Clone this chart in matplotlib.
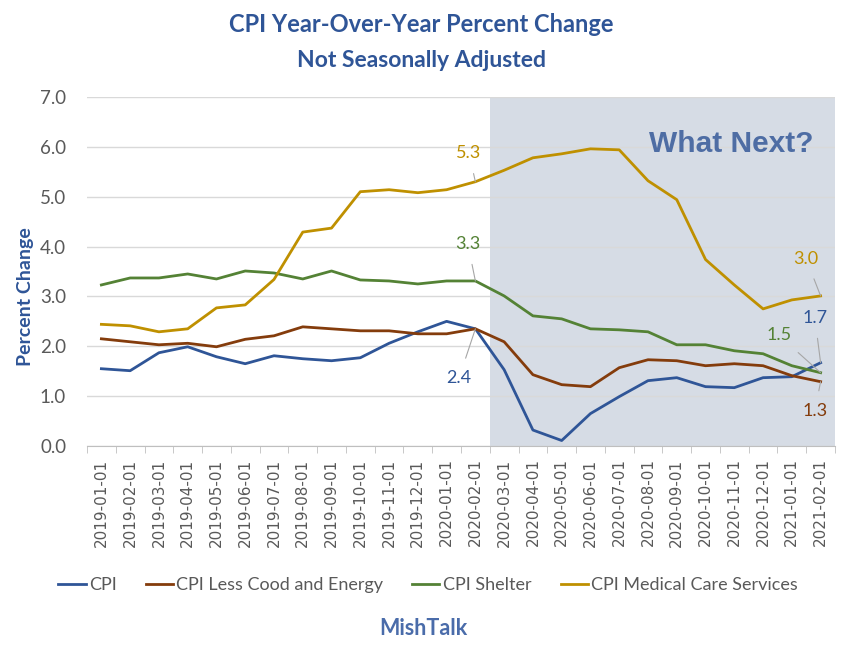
import numpy as np
import matplotlib.pyplot as plt

# %% Data
dates = ["2019-01-01", "2019-02-01", "2019-03-01", "2019-04-01", "2019-05-01", "2019-06-01",
         "2019-07-01", "2019-08-01", "2019-09-01", "2019-10-01", "2019-11-01", "2019-12-01",
         "2020-01-01", "2020-02-01", "2020-03-01", "2020-04-01", "2020-05-01", "2020-06-01",
         "2020-07-01", "2020-08-01", "2020-09-01", "2020-10-01", "2020-11-01", "2020-12-01",
         "2021-01-01", "2021-02-01"]

cpi = [1.55, 1.51, 1.87, 1.99, 1.79, 1.65, 1.81, 1.75, 1.71, 1.77, 2.06, 2.29,
       2.50, 2.35, 1.53, 0.32, 0.11, 0.65, 0.99, 1.31, 1.37, 1.19, 1.17, 1.37,
       1.39, 1.67]
core = [2.15, 2.09, 2.03, 2.06, 1.99, 2.14, 2.21, 2.39, 2.35, 2.31, 2.31, 2.25,
        2.25, 2.35, 2.09, 1.43, 1.23, 1.19, 1.57, 1.73, 1.71, 1.61, 1.65, 1.61,
        1.41, 1.29]
shelter = [3.23, 3.37, 3.37, 3.45, 3.35, 3.51, 3.47, 3.35, 3.51, 3.33, 3.31, 3.25,
           3.31, 3.31, 3.01, 2.61, 2.55, 2.35, 2.33, 2.29, 2.03, 2.03, 1.91, 1.85,
           1.61, 1.47]
medical = [2.44, 2.41, 2.29, 2.35, 2.77, 2.83, 3.34, 4.29, 4.37, 5.10, 5.14, 5.08,
           5.14, 5.30, 5.53, 5.78, 5.86, 5.96, 5.94, 5.32, 4.94, 3.74, 3.23, 2.75,
           2.93, 3.01]

series = [("CPI", cpi, "#2F5597"),
          ("CPI Less Cood and Energy", core, "#843C0C"),
          ("CPI Shelter", shelter, "#548235"),
          ("CPI Medical Care Services", medical, "#BF9000")]

# labels: text, series index, point index, label position (x, y)
labels = [("5.3", 3, 13, (12.78, 5.87)),
          ("3.3", 2, 13, (12.74, 4.05)),
          ("2.4", 0, 13, (12.43, 1.36)),
          ("3.0", 3, 25, (24.5, 3.75)),
          ("1.7", 0, 25, (24.8, 2.57)),
          ("1.5", 2, 25, (23.55, 2.22)),
          ("1.3", 1, 25, (24.8, 0.70))]

# %% Plot
x = np.arange(len(dates))
fig = plt.figure(figsize=(8.43, 6.53), dpi=100)
ax = fig.add_axes([0.1032, 0.317, 0.8873, 0.5345])

ax.axvspan(13.5, 25.5, color="#D6DCE5", zorder=0, lw=0)
for name, vals, col in series:
    ax.plot(x, vals, color=col, lw=2, label=name, zorder=3)

for txt, si, pi, pos in labels:
    col = series[si][2]
    ax.annotate(txt, xy=(pi, series[si][1][pi]), xytext=pos, color=col,
                fontsize=13, family="Lato", ha="center", va="center",
                arrowprops=dict(arrowstyle="-", color="#A6A6A6", lw=0.8,
                                shrinkA=7, shrinkB=0), zorder=4)

ax.text(21.9, 6.05, "What Next?", color="#4E6DA4", fontsize=21.5, fontweight="bold",
        family="Liberation Sans", ha="center", va="center")

ax.set_xlim(-0.5, 25.5)
ax.set_ylim(0, 7)
ax.set_yticks(np.arange(0, 7.5, 1.0))
ax.set_yticklabels([f"{v:.1f}" for v in np.arange(0, 7.5, 1.0)], family="Lato",
                   fontsize=13.5, color="#595959")
ax.set_xticks(x)
ax.set_xticklabels(dates, rotation=90, fontsize=11, color="#595959")
ax.set_xticks(np.arange(-0.5, 26, 1), minor=True)
ax.tick_params(axis="x", which="major", length=0, pad=9)
ax.tick_params(axis="x", which="minor", length=5, color="#BFBFBF")
ax.tick_params(axis="y", length=0, pad=15)
ax.grid(True, axis="y", color="#D9D9D9", lw=1, zorder=1)
ax.set_axisbelow(True)
for s in ["top", "right", "left"]:
    ax.spines[s].set_visible(False)
ax.spines["bottom"].set_color("#BFBFBF")

fig.text(0.03, 1 - 297 / 653, "Percent Change", rotation=90, ha="center", va="center",
         color="#2F5597", fontsize=14, fontweight="bold", family="Lato")

fig.text(0.5, 0.962, "CPI Year-Over-Year Percent Change", ha="center", va="center",
         color="#2F5597", fontsize=17, fontweight="bold", family="Lato")
fig.text(0.5, 0.907, "Not Seasonally Adjusted", ha="center", va="center",
         color="#2F5597", fontsize=16.5, fontweight="bold", family="Lato")

fig.legend(loc="center", bbox_to_anchor=(0.508, 0.104), ncol=4, frameon=False,
           prop={"family": "Lato", "size": 13}, labelcolor="#595959",
           handlelength=1.5, handletextpad=0.2, columnspacing=1.6)

fig.text(0.502, 0.037, "MishTalk", ha="center", va="center", color="#4A6CAA",
         fontsize=15.5, fontweight="bold", family="Lato")

plt.savefig("out.png", dpi=100)
